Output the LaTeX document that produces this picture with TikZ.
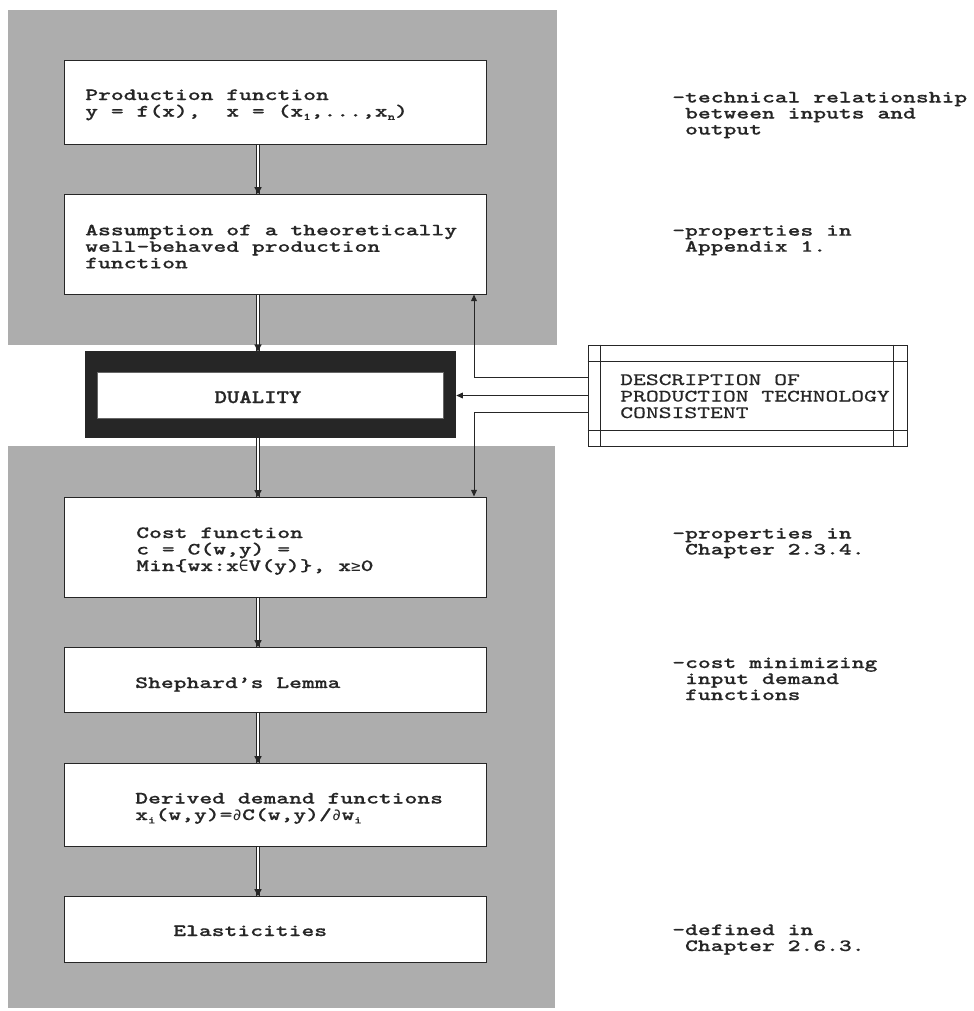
\documentclass[tikz,border=0pt]{standalone}
\usepackage{fontspec}
\newfontfamily\cour{lmmonolt10-bold.otf}[FakeStretch=1.42, FakeBold=0.4]
\newfontfamily\descfont{lmmono10-regular.otf}[FakeStretch=1.41, FakeBold=0.6]
\newfontfamily\dualfont{lmmonolt10-bold.otf}[FakeStretch=1.23, FakeBold=1.2]
\newfontfamily\symf{DejaVu Sans Mono}
\usetikzlibrary{arrows.meta,decorations.markings,calc}
\definecolor{panel}{gray}{0.68}
\definecolor{ink}{gray}{0.15}
\newcommand\lowidx[1]{\raisebox{-2.5pt}{\fontsize{7.5}{7.5}\selectfont #1}}
\newcommand\tightlines{\lineskiplimit=-50pt\lineskip=0pt\relax}
\tikzset{
  box/.style={draw=ink, line width=0.75pt, fill=white, minimum width=316.5pt, inner sep=0pt},
  txt/.style={anchor=base west, inner sep=0pt, align=left, text=ink,
    font=\cour\fontsize{12.9}{12.375}\selectfont\tightlines},
  note/.style={txt, font=\cour\fontsize{12.9}{12}\selectfont\tightlines},
  desctxt/.style={txt, font=\descfont\fontsize{13}{12.375}\selectfont\tightlines},
  flow/.style={draw=ink, line width=0.6pt, double=white, double distance=2.2pt,
    postaction={decorate},
    decoration={markings, mark=at position 1 with {\fill[ink] (0.6pt,0) -- (-4.8pt,2.8pt) -- (-4.8pt,-2.8pt) -- cycle;}}},
  feed/.style={draw=ink, line width=0.6pt, -{Triangle[length=5pt,width=4.4pt]}},
  thinline/.style={draw=ink, line width=0.6pt}
}
\begin{document}
\begin{tikzpicture}[x=0.75pt,y=-0.75pt]
\useasboundingbox (0,0) rectangle (974,1011);
% shaded panels
\fill[panel] (8,10) rectangle (557,345);
\fill[panel] (8,446) rectangle (555,1008);

% boxes
\node[box, minimum height=63pt]    (b1) at (275,102) {};
\node[box, minimum height=75pt]    (b2) at (275,244) {};
\node[fill=ink, draw=none, minimum width=278.25pt, minimum height=65.25pt, inner sep=0pt] (dualout) at (270.5,394.5) {};
\node[fill=white, draw=black!60, line width=0.5pt, minimum width=259.5pt, minimum height=34.5pt, inner sep=0pt] (dualin) at (270,395) {};
\node[box, minimum height=75pt]    (b3) at (275,547) {};
\node[box, minimum height=48.75pt] (b4) at (275,679.5) {};
\node[box, minimum height=62.25pt] (b5) at (275,804.5) {};
\node[box, minimum height=49.5pt]  (b6) at (275,929) {};
\node[draw=ink, line width=0.6pt, fill=white, minimum width=239.25pt, minimum height=75.75pt, inner sep=0pt] (desc) at (747.5,395.5) {};
% inner frame lines of the description box
\draw[thinline] ($(desc.north west)+(0,17)$) -- ($(desc.north east)+(0,17)$);
\draw[thinline] ($(desc.south west)+(0,-16)$) -- ($(desc.south east)+(0,-16)$);
\draw[thinline] ($(desc.north west)+(13,0)$) -- ($(desc.south west)+(13,0)$);
\draw[thinline] ($(desc.north east)+(-14,0)$) -- ($(desc.south east)+(-14,0)$);

% main flow
\coordinate (ax) at (258,0);
\draw[flow] (b1.south -| ax) -- (b2.north -| ax);
\draw[flow] (b2.south -| ax) -- (dualout.north -| ax);
\draw[flow] (dualout.south -| ax) -- (b3.north -| ax);
\draw[flow] (b3.south -| ax) -- (b4.north -| ax);
\draw[flow] (b4.south -| ax) -- (b5.north -| ax);
\draw[flow] (b5.south -| ax) -- (b6.north -| ax);

% feedback from the description box
\coordinate (vx) at (474,0);
\draw[feed] ($(desc.north west)+(0,33)$) -| (b2.south -| vx);
\draw[feed] (desc.west) -- (desc.west -| dualout.east);
\draw[feed] ($(desc.south west)+(0,-34)$) -| (b3.north -| vx);

% texts in boxes (anchored at the baseline of the last line)
\node[txt] (t1) at (85,116.5) {Production function\\y = f(x),\ \ x = (x\lowidx{1},...,x\lowidx{n})};
\node[txt] (t2) at (85,268.3) {Assumption of a theoretically\\well-behaved production\\function};
\node[anchor=base, inner sep=0pt, text=ink, font=\dualfont\fontsize{14.4}{14.4}\selectfont] (t0) at (258,403) {DUALITY};
\node[desctxt] (td) at (620,418) {DESCRIPTION OF\\PRODUCTION TECHNOLOGY\\CONSISTENT};
\node[txt] (t3) at (136,571) {Cost function\\c = C(w,y) =\\Min\{wx:x{\symf\fontsize{12}{12}\selectfont ∈}V(y)\}, x{\symf\fontsize{12}{12}\selectfont ≥}0};
\node[txt] (t4) at (135,688) {Shephard’s Lemma};
\node[txt] (t5) at (135,820) {Derived demand functions\\x\lowidx{i}(w,y)={\symf\fontsize{12}{12}\selectfont ∂}C(w,y)/{\symf\fontsize{12}{12}\selectfont ∂}w\lowidx{i}};
\node[txt] (t6) at (173,936) {Elasticities};

% annotations
\node[note] (a1) at (672,134.5) {-technical relationship\\\ between inputs and\\\ output};
\node[note] (a2) at (672,251.7) {-properties in\\\ Appendix 1.};
\node[note] (a3) at (672,554.5) {-properties in\\\ Chapter 2.3.4.};
\node[note] (a4) at (672,700) {-cost minimizing\\\ input demand\\\ functions};
\node[note] (a5) at (672,951) {-defined in\\\ Chapter 2.6.3.};
\end{tikzpicture}
\end{document}
